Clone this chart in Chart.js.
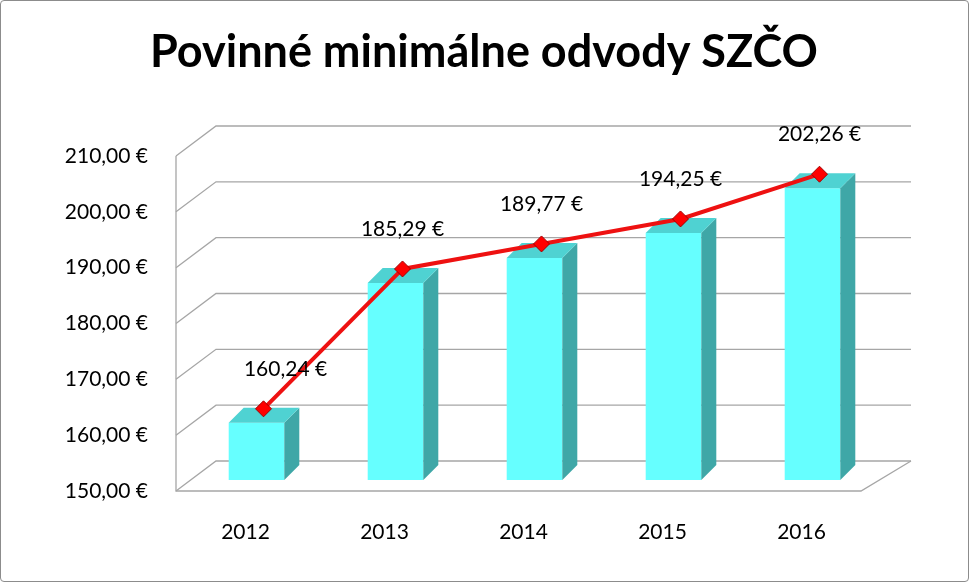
<!DOCTYPE html>
<html><head><meta charset="utf-8">
<script src="https://cdn.jsdelivr.net/npm/chart.js@4/dist/chart.umd.min.js"></script>
<style>
html,body{margin:0;padding:0;background:#fff}
#wrap{position:relative;width:967px;height:580px;border:1px solid #8c8c8c;border-radius:4px;overflow:hidden}
</style></head><body>
<div id="wrap"><canvas id="c" width="967" height="580"></canvas></div>
<script>
const categories = ['2012','2013','2014','2015','2016'];
const values = [160.24, 185.29, 189.77, 194.25, 202.26];
const valueLabels = ['160,24 €','185,29 €','189,77 €','194,25 €','202,26 €'];
const yTicks = [150,160,170,180,190,200,210];
const yTickLabels = ['150,00 €','160,00 €','170,00 €','180,00 €','190,00 €','200,00 €','210,00 €'];
const titleText = 'Povinné minimálne odvody SZČO';

const DX = -40, DY = 30;
const BAR_DX = -29, BAR_DY = 19;
const LINE_DX = -22, LINE_DY = 5;
const DEPTH = 15;
const FONT = 'Lato, "Liberation Sans", sans-serif';

const plug = {
  id:'three',
  beforeDatasetsDraw(chart){
    const {ctx, scales:{x,y}} = chart;
    const l = x.left, r = x.right;
    ctx.save();
    ctx.strokeStyle = '#a6a6a6'; ctx.lineWidth = 1.3;
    yTicks.forEach(v=>{
      const py = y.getPixelForValue(v);
      ctx.beginPath(); ctx.moveTo(l+DX,py+DY); ctx.lineTo(l,py); ctx.lineTo(r,py); ctx.stroke();
    });
    const b = y.getPixelForValue(150), t = y.getPixelForValue(210);
    ctx.beginPath(); ctx.moveTo(l+DX,t+DY); ctx.lineTo(l+DX,b+DY); ctx.lineTo(r+DX-10,b+DY); ctx.lineTo(r,b); ctx.stroke();
    ctx.fillStyle='#000'; ctx.font='21px '+FONT; ctx.textAlign='right'; ctx.textBaseline='middle';
    yTicks.forEach((v,i)=>ctx.fillText(yTickLabels[i], l+DX-28, y.getPixelForValue(v)+DY));
    ctx.textAlign='center';
    categories.forEach((c,i)=>ctx.fillText(c, x.getPixelForValue(i)-40, 531));
    ctx.font='bold 45px '+FONT;
    ctx.fillText(titleText, 483, 51);
    ctx.restore();
  },
  beforeDatasetDraw(chart,args){
    const ctx=chart.ctx; ctx.save();
    if(args.index===0) ctx.translate(BAR_DX,BAR_DY); else ctx.translate(LINE_DX,LINE_DY);
  },
  afterDatasetDraw(chart,args){
    const ctx=chart.ctx;
    if(args.index===0){
      args.meta.data.forEach(el=>{
        const L=el.x-el.width/2, R=el.x+el.width/2, T=el.y, B=el.base;
        ctx.fillStyle='#3fa7a7';
        ctx.beginPath(); ctx.moveTo(R,T); ctx.lineTo(R+DEPTH,T-DEPTH); ctx.lineTo(R+DEPTH,B-DEPTH); ctx.lineTo(R,B); ctx.closePath(); ctx.fill();
        ctx.fillStyle='#4fd2d2';
        ctx.beginPath(); ctx.moveTo(L,T); ctx.lineTo(L+DEPTH,T-DEPTH); ctx.lineTo(R+DEPTH,T-DEPTH); ctx.lineTo(R,T); ctx.closePath(); ctx.fill();
      });
    } else {
      ctx.fillStyle='#000'; ctx.font='21px '+FONT; ctx.textAlign='center'; ctx.textBaseline='middle';
      args.meta.data.forEach((p,i)=>ctx.fillText(valueLabels[i], p.x+(i===0?22:0), p.y-40));
    }
    ctx.restore();
  }
};

new Chart(document.getElementById('c'),{
  data:{labels:categories,datasets:[
    {type:'bar',data:values,backgroundColor:'#66ffff',barPercentage:0.4,categoryPercentage:1,order:2,base:150},
    {type:'line',data:values,borderColor:'#ee1111',borderWidth:4,pointStyle:'rectRot',pointRadius:8,
     pointBackgroundColor:'#ff0000',pointBorderColor:'#a00000',pointBorderWidth:1,order:1}
  ]},
  options:{responsive:false,animation:false,
    layout:{padding:{left:215,right:57,top:125,bottom:120}},
    plugins:{legend:{display:false},tooltip:{enabled:false}},
    scales:{
      x:{display:false},
      y:{display:false,min:150,max:210}
    }},
  plugins:[plug]
});
</script></body></html>
